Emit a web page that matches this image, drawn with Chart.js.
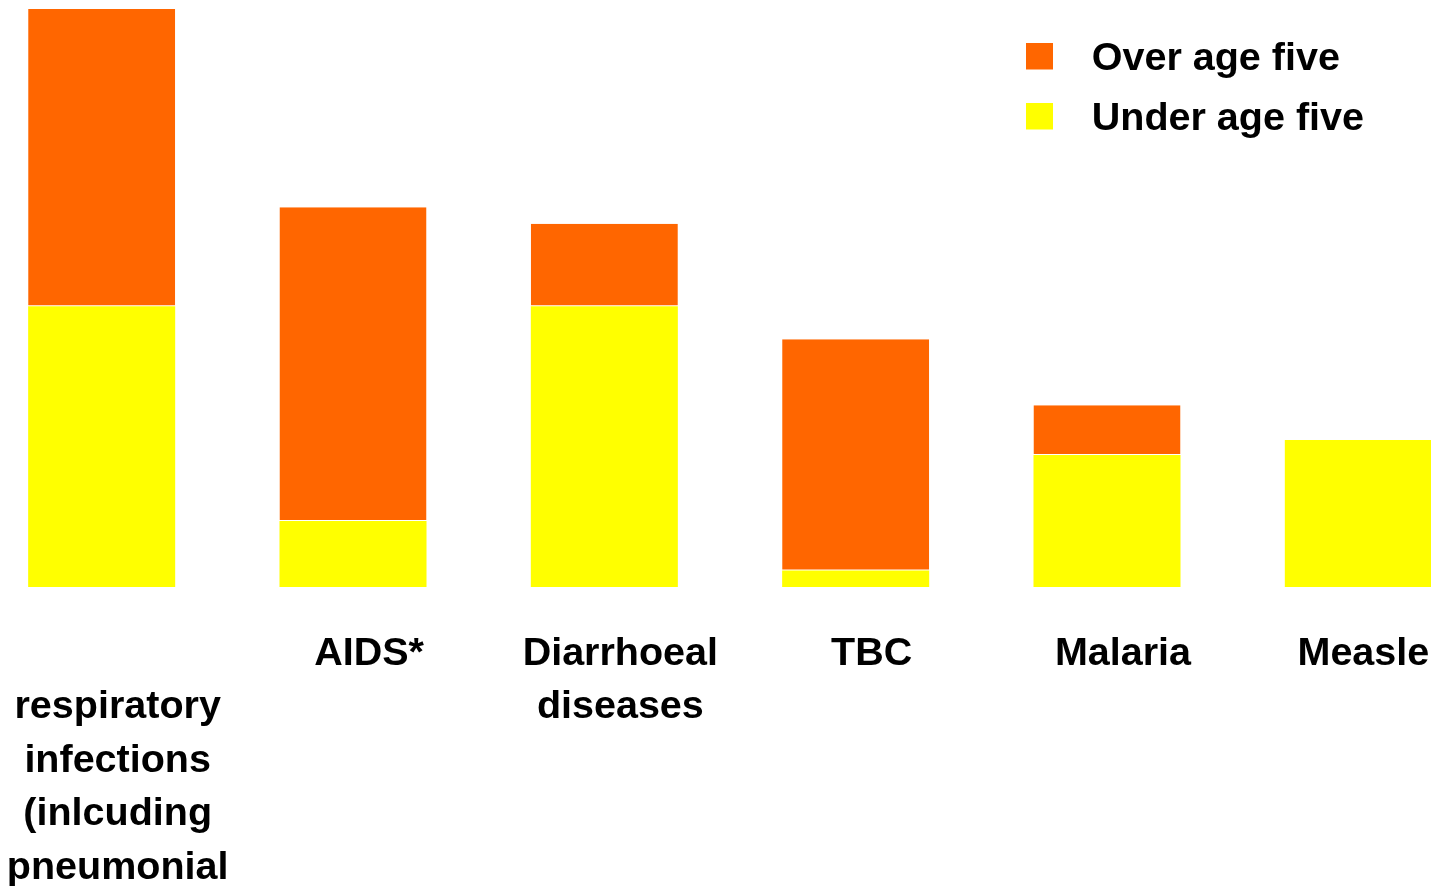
<!DOCTYPE html>
<html>
<head>
<meta charset="utf-8">
<script src="https://cdn.jsdelivr.net/npm/chart.js@4/dist/chart.umd.min.js"></script>
<style>
  html, body { margin: 0; padding: 0; background: #fff; overflow: hidden; }
  #wrap { position: absolute; left: -24px; top: 0; width: 1508px; height: 886px; }
</style>
</head>
<body>
<div id="wrap"><canvas id="myChart"></canvas></div>
<script>
// deaths per year (millions)
var causes = [
    ['', 'respiratory', 'infections', '(inlcuding', 'pneumonial'],
    'AIDS*',
    ['Diarrhoeal', 'diseases'],
    'TBC',
    'Malaria',
    'Measle  '
];
var underFive = [1.7, 0.4, 1.7, 0.1, 0.8, 0.89];
var overFive = [1.8, 1.9, 0.5, 1.4, 0.3, 0];

var fontFamily = '"Liberation Sans", Arial, sans-serif';

// legend swatch: 27px square at the left/top of a wider canvas,
// so the text sits further right and a bit lower than the square
function swatch(color) {
    var c = document.createElement('canvas');
    c.width = 46;
    c.height = 33;
    var g = c.getContext('2d');
    g.fillStyle = color;
    g.fillRect(0, 0, 27, 27);
    return c;
}

// put the legend box in the top right corner of the plot
var legendCorner = {
    id: 'legendCorner',
    afterLayout: function(chart) {
        var lg = chart.legend;
        var w = lg.width, h = lg.height;
        lg.left = 1029.5;
        lg.top = 18.75;
        lg.right = lg.left + w;
        lg.bottom = lg.top + h;
    }
};

var ctx = document.getElementById('myChart').getContext('2d');
var myChart = new Chart(ctx, {
    type: 'bar',
    data: {
        labels: causes,
        datasets: [{
            label: 'Under age five',
            data: underFive,
            backgroundColor: '#FFFF00',
            borderWidth: 0
        }, {
            label: 'Over age five',
            data: overFive,
            backgroundColor: '#FF6600',
            borderColor: '#FFFFFF',
            borderWidth: { bottom: 1 },
            borderSkipped: false
        }]
    },
    options: {
        responsive: true,
        maintainAspectRatio: false,
        animation: false,
        layout: { padding: { top: 9 } },
        categoryPercentage: 1,
        barPercentage: 0.585,
        plugins: {
            tooltip: { enabled: false },
            legend: {
                position: 'chartArea',
                align: 'start',
                reverse: true,
                labels: {
                    color: '#000',
                    usePointStyle: true,
                    pointStyleWidth: 46,
                    boxHeight: 27,
                    padding: 20.5,
                    font: { family: fontFamily, size: 39.5, weight: 'bold' },
                    generateLabels: function(chart) {
                        var items = Chart.defaults.plugins.legend.labels.generateLabels(chart);
                        items.forEach(function(it) {
                            it.pointStyle = swatch(chart.data.datasets[it.datasetIndex].backgroundColor);
                        });
                        return items;
                    }
                }
            }
        },
        scales: {
            x: {
                stacked: true,
                grid: { display: true, drawOnChartArea: false, drawTicks: true, tickLength: 40, color: 'rgba(0,0,0,0)' },
                border: { display: false },
                ticks: {
                    color: '#000',
                    padding: 0,
                    labelOffset: 16,
                    autoSkip: false,
                    maxRotation: 0,
                    minRotation: 0,
                    font: { family: fontFamily, size: 39.5, weight: 'bold', lineHeight: 1.355 }
                },
                afterFit: function(scale) { scale.height = 299; }
            },
            y: {
                stacked: true,
                display: false,
                min: 0,
                max: 3.5
            }
        }
    },
    plugins: [legendCorner]
});
</script>
</body>
</html>
